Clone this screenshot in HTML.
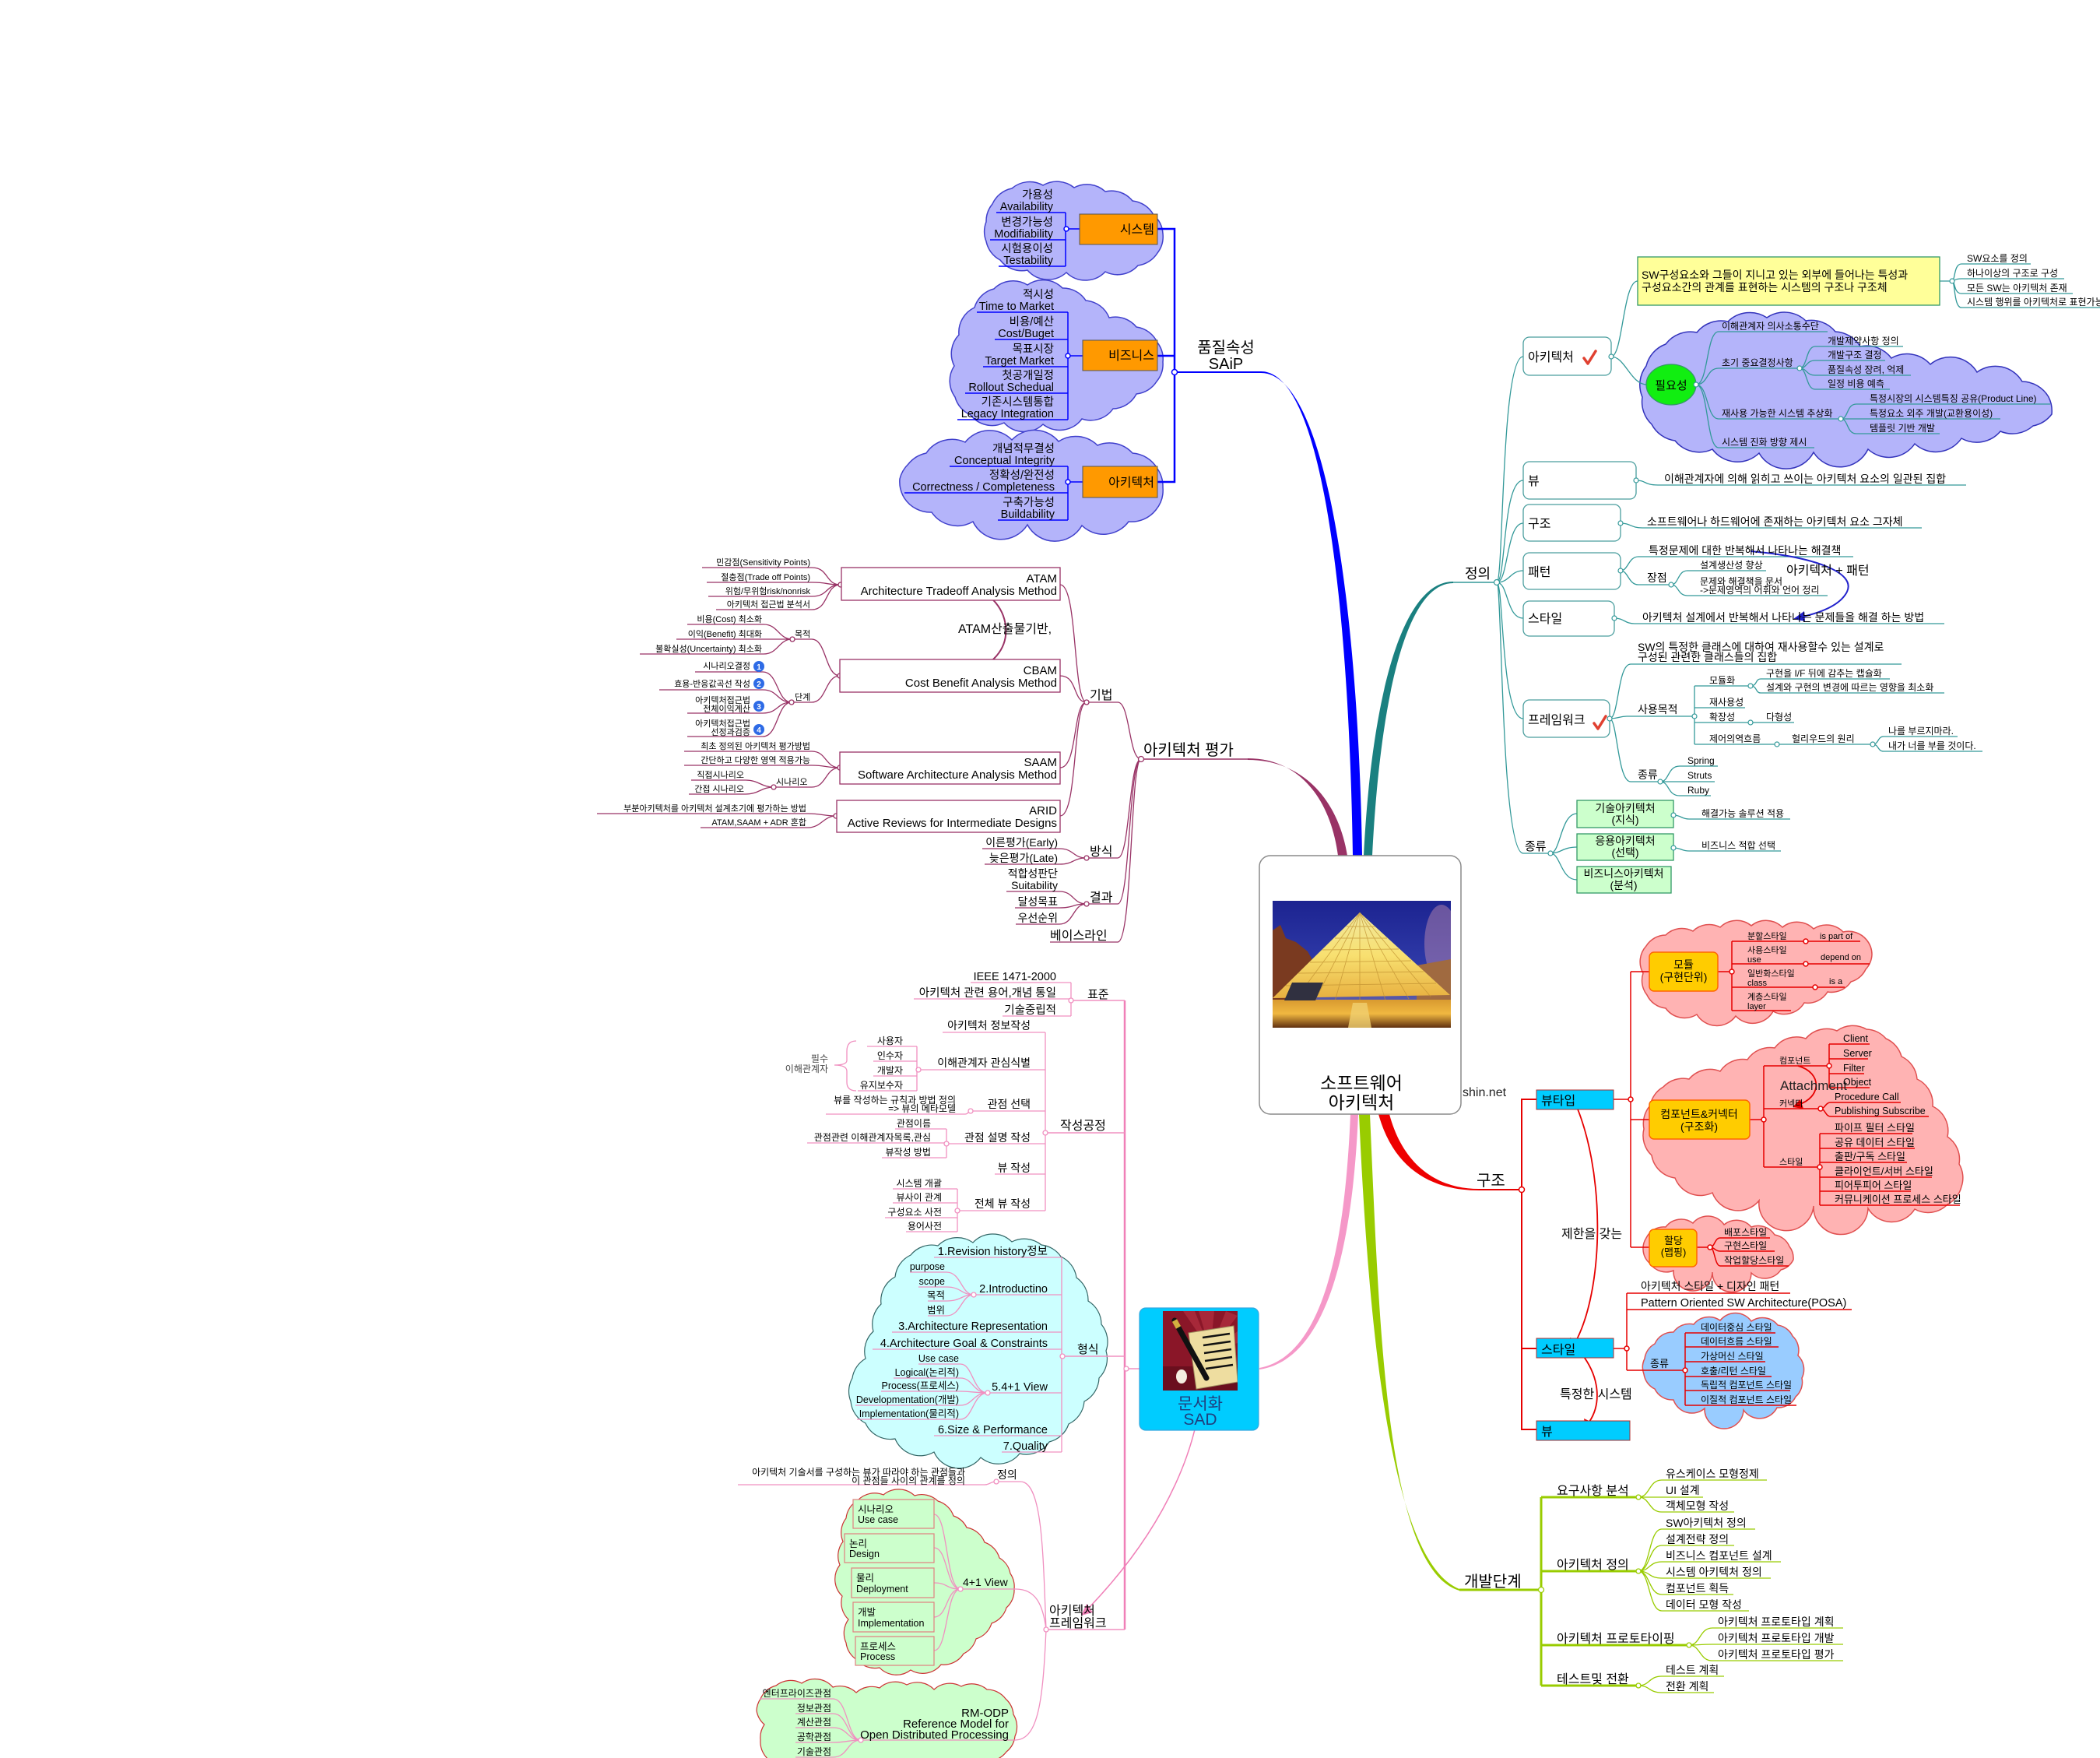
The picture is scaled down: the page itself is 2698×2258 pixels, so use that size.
<!DOCTYPE html>
<html><head><meta charset="utf-8">
<style>
body{margin:0;background:#fff}
svg{display:block;font-family:"Liberation Sans","Noto Sans CJK KR","WenQuanYi Zen Hei",sans-serif}
text{fill:#000}
.e{text-anchor:end}.m{text-anchor:middle}
.f10{font-size:10px}.f11{font-size:11px}.f12{font-size:12px}.f125{font-size:12.5px}.f13{font-size:13px}.f14{font-size:14px}.f145{font-size:14.5px}.f15{font-size:15px}.f16{font-size:16px}.f17{font-size:17px}.f18{font-size:18px}.f20{font-size:20px}.f21{font-size:21px}.f23{font-size:23px}
</style></head><body>
<svg xmlns="http://www.w3.org/2000/svg" width="2698" height="2258" viewBox="0 0 2698 2258">
<defs>
<linearGradient id="sky" x1="0" y1="0" x2="0" y2="1"><stop offset="0" stop-color="#1c2390"/><stop offset="0.5" stop-color="#2f3aa8"/><stop offset="0.8" stop-color="#5a5aa8"/><stop offset="1" stop-color="#8a6a90"/></linearGradient>
<linearGradient id="pyr" x1="0" y1="0" x2="0" y2="1"><stop offset="0" stop-color="#f0e8a0"/><stop offset="0.5" stop-color="#f8e070"/><stop offset="1" stop-color="#e8b040"/></linearGradient>
<linearGradient id="water" x1="0" y1="0" x2="0" y2="1"><stop offset="0" stop-color="#d89a30"/><stop offset="0.5" stop-color="#f0b840"/><stop offset="1" stop-color="#603010"/></linearGradient>
<clipPath id="imgc"><rect x="1635" y="1157" width="229" height="163"/></clipPath>
<clipPath id="docc"><rect x="1494" y="1684" width="96" height="102"/></clipPath>
</defs>

<!-- ============ CLOUDS ============ -->
<g stroke-width="1.5">
<path fill="#b4b4fa" stroke="#4040cc" d="M1275,262 A35 35 0 0 1 1300,242 A35 35 0 0 1 1340,238 A35 35 0 0 1 1380,241 A35 35 0 0 1 1420,246 A35 35 0 0 1 1455,258 A35 35 0 0 1 1482,276 A35 35 0 0 1 1494,300 A35 35 0 0 1 1487,325 A35 35 0 0 1 1462,341 A35 35 0 0 1 1420,349 A35 35 0 0 1 1370,350 A35 35 0 0 1 1320,347 A35 35 0 0 1 1285,334 A35 35 0 0 1 1267,310 A35 35 0 0 1 1267,285 A35 35 0 0 1 1275,262 Z"/>
<path fill="#b4b4fa" stroke="#4040cc" d="M1252,395 A35 35 0 0 1 1277,371 A35 35 0 0 1 1320,366 A35 35 0 0 1 1365,370 A35 35 0 0 1 1395,386 A35 35 0 0 1 1425,408 A35 35 0 0 1 1460,420 A35 35 0 0 1 1487,440 A35 35 0 0 1 1494,465 A35 35 0 0 1 1486,490 A35 35 0 0 1 1460,506 A35 35 0 0 1 1430,525 A35 35 0 0 1 1390,538 A35 35 0 0 1 1340,545 A35 35 0 0 1 1290,543 A35 35 0 0 1 1247,533 A35 35 0 0 1 1227,510 A35 35 0 0 1 1226,470 A35 35 0 0 1 1232,430 A35 35 0 0 1 1252,395 Z"/>
<path fill="#b4b4fa" stroke="#4040cc" d="M1190,582 A40 40 0 0 1 1240,568 A40 40 0 0 1 1300,565 A40 40 0 0 1 1360,567 A40 40 0 0 1 1410,572 A40 40 0 0 1 1455,582 A40 40 0 0 1 1487,602 A40 40 0 0 1 1494,626 A40 40 0 0 1 1485,655 A40 40 0 0 1 1450,670 A40 40 0 0 1 1390,675 A40 40 0 0 1 1320,674 A40 40 0 0 1 1250,670 A40 40 0 0 1 1197,658 A40 40 0 0 1 1162,640 A40 40 0 0 1 1156,615 A40 40 0 0 1 1167,596 A40 40 0 0 1 1190,582 Z"/>
<path fill="#b4b4fa" stroke="#3333bb" d="M2115,470 A40 40 0 0 1 2140,442 A40 40 0 0 1 2180,427 A40 40 0 0 1 2220,413 A40 40 0 0 1 2270,408 A40 40 0 0 1 2320,412 A40 40 0 0 1 2358,426 A40 40 0 0 1 2390,445 A40 40 0 0 1 2430,460 A40 40 0 0 1 2480,468 A40 40 0 0 1 2540,478 A40 40 0 0 1 2598,490 A40 40 0 0 1 2632,510 A40 40 0 0 1 2636,532 A40 40 0 0 1 2612,547 A40 40 0 0 1 2570,554 A40 40 0 0 1 2520,563 A40 40 0 0 1 2460,570 A40 40 0 0 1 2400,577 A40 40 0 0 1 2330,581 A40 40 0 0 1 2260,582 A40 40 0 0 1 2200,577 A40 40 0 0 1 2152,566 A40 40 0 0 1 2122,545 A40 40 0 0 1 2110,510 A40 40 0 0 1 2115,470 Z"/>
<path fill="#ffb3b3" stroke="#e05050" d="M2115,1215 A30 30 0 0 1 2140,1201 A30 30 0 0 1 2175,1196 A30 30 0 0 1 2210,1191 A30 30 0 0 1 2250,1189 A30 30 0 0 1 2290,1191 A30 30 0 0 1 2330,1193 A30 30 0 0 1 2368,1197 A30 30 0 0 1 2398,1207 A30 30 0 0 1 2405,1226 A30 30 0 0 1 2397,1245 A30 30 0 0 1 2378,1261 A30 30 0 0 1 2348,1274 A30 30 0 0 1 2318,1288 A30 30 0 0 1 2278,1299 A30 30 0 0 1 2230,1305 A30 30 0 0 1 2180,1303 A30 30 0 0 1 2140,1295 A30 30 0 0 1 2116,1278 A30 30 0 0 1 2111,1250 A30 30 0 0 1 2115,1215 Z"/>
<path fill="#ffb3b3" stroke="#e05050" d="M2120,1420 A35 35 0 0 1 2137,1396 A35 35 0 0 1 2170,1386 A35 35 0 0 1 2210,1376 A35 35 0 0 1 2245,1361 A35 35 0 0 1 2280,1346 A35 35 0 0 1 2320,1334 A35 35 0 0 1 2360,1324 A35 35 0 0 1 2398,1322 A35 35 0 0 1 2423,1334 A35 35 0 0 1 2443,1357 A35 35 0 0 1 2463,1386 A35 35 0 0 1 2483,1421 A35 35 0 0 1 2502,1460 A35 35 0 0 1 2517,1495 A35 35 0 0 1 2520,1524 A35 35 0 0 1 2502,1547 A35 35 0 0 1 2460,1553 A35 35 0 0 1 2400,1552 A35 35 0 0 1 2330,1549 A35 35 0 0 1 2260,1542 A35 35 0 0 1 2200,1532 A35 35 0 0 1 2152,1513 A35 35 0 0 1 2122,1484 A35 35 0 0 1 2112,1450 A35 35 0 0 1 2120,1420 Z"/>
<path fill="#ffb3b3" stroke="#e05050" d="M2115,1590 A25 25 0 0 1 2140,1576 A25 25 0 0 1 2175,1571 A25 25 0 0 1 2215,1573 A25 25 0 0 1 2250,1576 A25 25 0 0 1 2280,1586 A25 25 0 0 1 2299,1601 A25 25 0 0 1 2304,1618 A25 25 0 0 1 2288,1631 A25 25 0 0 1 2250,1635 A25 25 0 0 1 2200,1634 A25 25 0 0 1 2150,1632 A25 25 0 0 1 2120,1623 A25 25 0 0 1 2111,1605 A25 25 0 0 1 2115,1590 Z"/>
<path fill="#99ccff" stroke="#e05050" d="M2113,1745 A25 25 0 0 1 2126,1726 A25 25 0 0 1 2150,1711 A25 25 0 0 1 2176,1701 A25 25 0 0 1 2210,1696 A25 25 0 0 1 2250,1697 A25 25 0 0 1 2284,1702 A25 25 0 0 1 2303,1716 A25 25 0 0 1 2310,1741 A25 25 0 0 1 2315,1770 A25 25 0 0 1 2307,1794 A25 25 0 0 1 2283,1808 A25 25 0 0 1 2240,1811 A25 25 0 0 1 2190,1809 A25 25 0 0 1 2150,1798 A25 25 0 0 1 2126,1784 A25 25 0 0 1 2112,1765 A25 25 0 0 1 2113,1745 Z"/>
<path fill="#ccffff" stroke="#336666" stroke-width="1.2" d="M1150,1640 A35 35 0 0 1 1170,1612 A35 35 0 0 1 1205,1600 A35 35 0 0 1 1250,1596 A35 35 0 0 1 1300,1595 A35 35 0 0 1 1338,1599 A35 35 0 0 1 1363,1614 A35 35 0 0 1 1383,1641 A35 35 0 0 1 1398,1671 A35 35 0 0 1 1415,1701 A35 35 0 0 1 1421,1735 A35 35 0 0 1 1412,1770 A35 35 0 0 1 1393,1800 A35 35 0 0 1 1373,1829 A35 35 0 0 1 1348,1852 A35 35 0 0 1 1310,1867 A35 35 0 0 1 1260,1872 A35 35 0 0 1 1200,1865 A35 35 0 0 1 1150,1848 A35 35 0 0 1 1112,1828 A35 35 0 0 1 1093,1800 A35 35 0 0 1 1095,1770 A35 35 0 0 1 1112,1745 A35 35 0 0 1 1122,1710 A35 35 0 0 1 1132,1675 A35 35 0 0 1 1150,1640 Z"/>
<path fill="#ccffcc" stroke="#cc3333" stroke-width="1.2" d="M1087,1950 A30 30 0 0 1 1102,1927 A30 30 0 0 1 1135,1920 A30 30 0 0 1 1175,1921 A30 30 0 0 1 1205,1928 A30 30 0 0 1 1225,1947 A30 30 0 0 1 1242,1962 A30 30 0 0 1 1265,1981 A30 30 0 0 1 1284,2001 A30 30 0 0 1 1298,2021 A30 30 0 0 1 1303,2041 A30 30 0 0 1 1293,2065 A30 30 0 0 1 1274,2085 A30 30 0 0 1 1254,2105 A30 30 0 0 1 1238,2124 A30 30 0 0 1 1209,2138 A30 30 0 0 1 1170,2145 A30 30 0 0 1 1130,2142 A30 30 0 0 1 1101,2132 A30 30 0 0 1 1087,2110 A30 30 0 0 1 1090,2080 A30 30 0 0 1 1082,2050 A30 30 0 0 1 1079,2010 A30 30 0 0 1 1083,1980 A30 30 0 0 1 1087,1950 Z"/>
<path fill="#ccffcc" stroke="#cc3333" stroke-width="1.2" d="M977,2182 A30 30 0 0 1 997,2165 A30 30 0 0 1 1030,2162 A30 30 0 0 1 1070,2167 A30 30 0 0 1 1100,2174 A30 30 0 0 1 1130,2168 A30 30 0 0 1 1165,2164 A30 30 0 0 1 1200,2170 A30 30 0 0 1 1235,2166 A30 30 0 0 1 1268,2170 A30 30 0 0 1 1292,2182 A30 30 0 0 1 1302,2202 A30 30 0 0 1 1304,2230 A30 30 0 0 1 1293,2250 A30 30 0 0 1 1270,2262 L990,2262 A30 30 0 0 1 977,2235 A30 30 0 0 1 982,2215 A30 30 0 0 1 972,2197 A30 30 0 0 1 977,2182 Z"/>
</g>

<!-- ============ MAIN BRANCHES ============ -->
<path fill="#0000ff" d="M1620,477 C1700,477 1733,780 1738,1099 L1750,1099 C1745,780 1704,479 1620,479 Z"/>
<path fill="#1a8080" d="M1867,747 C1800,747 1762,900 1752,1099 L1763,1099 C1773,900 1806,749 1867,749 Z"/>
<path fill="#993366" d="M1603,974 C1672,974 1710,1030 1719,1099 L1731,1099 C1720,1030 1676,976 1603,976 Z"/>
<path fill="#ee0000" d="M1771,1431 C1790,1500 1838,1529 1900,1529 L1900,1527 C1845,1527 1802,1495 1785,1431 Z"/>
<path fill="#f598c8" d="M1735,1431 C1728,1600 1700,1742 1618,1757 L1618,1759 C1706,1746 1738,1600 1745,1431 Z"/>
<path fill="#99cc00" d="M1746,1431 C1758,1700 1785,2005 1875,2041 L1875,2043 C1780,2015 1772,1700 1760,1431 Z"/>

<!-- ============ BLUE (quality) ============ -->
<g fill="none" stroke="#0000ff" stroke-width="1.5">
<path d="M1280,273H1369M1272,308H1369M1283,342H1369M1369,273V342M1369,294H1387"/>
<path d="M1255,401H1372M1278,436H1372M1263,471H1372M1240,505H1372M1230,539H1372M1372,401V539M1372,457H1391"/>
<path d="M1220,599H1372M1162,633H1372M1282,668H1372M1372,599V668M1372,619H1391"/>
<path stroke-width="2.5" d="M1487,294H1509V619H1487M1487,457H1509"/>
<path stroke-width="2" d="M1509,478H1620"/>
<circle fill="#fff" cx="1370" cy="294" r="3"/><circle fill="#fff" cx="1372" cy="457" r="3"/><circle fill="#fff" cx="1372" cy="619" r="3"/><circle fill="#fff" cx="1509" cy="478" r="3.5"/>
</g>
<g fill="#ff9900" stroke="#555" stroke-width="1">
<rect x="1387" y="275" width="100" height="39"/>
<rect x="1391" y="437" width="96" height="39"/>
<rect x="1391" y="599" width="96" height="40"/>
</g>
<g class="f16">
<text class="e" x="1483" y="300">시스템</text>
<text class="e" x="1483" y="462">비즈니스</text>
<text class="e" x="1483" y="625">아키텍처</text>
</g>
<g class="f145">
<text class="e" x="1353" y="255">가용성</text><text class="e" x="1353" y="270">Availability</text>
<text class="e" x="1353" y="290">변경가능성</text><text class="e" x="1353" y="305">Modifiability</text>
<text class="e" x="1353" y="324">시험용이성</text><text class="e" x="1353" y="339">Testability</text>
<text class="e" x="1354" y="383">적시성</text><text class="e" x="1354" y="398">Time to Market</text>
<text class="e" x="1354" y="418">비용/예산</text><text class="e" x="1354" y="433">Cost/Buget</text>
<text class="e" x="1354" y="453">목표시장</text><text class="e" x="1354" y="468">Target Market</text>
<text class="e" x="1354" y="487">첫공개일정</text><text class="e" x="1354" y="502">Rollout Schedual</text>
<text class="e" x="1354" y="521">기존시스템통합</text><text class="e" x="1354" y="536">Legacy Integration</text>
<text class="e" x="1355" y="581">개념적무결성</text><text class="e" x="1355" y="596">Conceptual Integrity</text>
<text class="e" x="1355" y="615">정확성/완전성</text><text class="e" x="1355" y="630">Correctness / Completeness</text>
<text class="e" x="1355" y="650">구축가능성</text><text class="e" x="1355" y="665">Buildability</text>
</g>
<text class="f20 m" x="1575" y="453">품질속성</text>
<text class="f20 m" x="1575" y="474">SAiP</text>

<!-- ============ MAROON (evaluation) ============ -->
<g fill="none" stroke="#993366" stroke-width="1.3">
<path stroke-width="1.6" d="M1466,975H1603"/>
<path d="M1362,751 C1385,751 1378,902 1396,902 M1362,868 C1385,868 1378,902 1396,902 M1362,986 C1385,986 1378,902 1396,902 M1362,1048 C1385,1048 1378,902 1396,902"/>
<path d="M1396,902H1436 C1452,902 1450,975 1466,975 M1396,1102H1436 C1452,1102 1450,975 1466,975 M1396,1161H1436 C1452,1161 1450,975 1466,975 M1349,1210H1436 C1455,1210 1452,975 1466,975"/>
<path d="M1262,1090H1361 C1380,1090 1378,1102 1396,1102 M1265,1110H1361 C1380,1110 1378,1102 1396,1102"/>
<path d="M1293,1145H1361 C1380,1145 1378,1161 1396,1161 M1304,1166H1361 C1380,1166 1378,1161 1396,1161 M1305,1187H1361 C1380,1187 1378,1161 1396,1161"/>
<path d="M902,729H1043 C1065,729 1060,751 1080,751 M908,748H1043 C1065,748 1060,751 1080,751 M910,766H1043 C1065,766 1060,751 1080,751 M920,783H1043 C1065,783 1060,751 1080,751"/>
<path d="M1018,821H1043 C1062,821 1060,868 1079,868 M1017,902H1043 C1062,902 1060,868 1079,868"/>
<path d="M883,802H981 C1000,802 1000,821 1018,821 M869,821H1018 M822,840H981 C1000,840 1000,821 1018,821"/>
<path d="M893,863H980 C1000,863 998,902 1017,902 M847,886H980 C1000,886 998,902 1017,902 M883,916H980 C1000,916 998,902 1017,902 M883,946H980 C1000,946 998,902 1017,902"/>
<path d="M879,965H1043 C1062,965 1060,986 1079,986 M879,983H1043 C1062,983 1060,986 1079,986 M994,1011H1043 C1062,1011 1060,986 1079,986"/>
<path d="M888,1002H958 C975,1002 978,1011 994,1011 M885,1020H958 C975,1020 978,1011 994,1011"/>
<path d="M767,1045H1038 C1055,1045 1058,1048 1074,1048 M900,1063H1038 C1055,1063 1058,1048 1074,1048"/>
<path stroke-width="2" d="M1237,752 C1300,758 1322,850 1234,866"/>
<g fill="#fff">
<circle cx="1080" cy="751" r="3"/><circle cx="1079" cy="868" r="3"/><circle cx="1018" cy="821" r="3"/><circle cx="1017" cy="902" r="3"/><circle cx="1079" cy="986" r="3"/><circle cx="994" cy="1011" r="3"/><circle cx="1074" cy="1048" r="3"/><circle cx="1396" cy="902" r="3"/><circle cx="1396" cy="1102" r="3"/><circle cx="1396" cy="1161" r="3"/><circle cx="1466" cy="975" r="3.5"/>
</g>
</g>
<polygon fill="#993366" points="1222,868 1237,859 1236,873"/>
<g fill="#fff" stroke="#993366" stroke-width="1.3">
<rect x="1081" y="729" width="281" height="42"/>
<rect x="1079" y="847" width="283" height="42"/>
<rect x="1079" y="966" width="283" height="41"/>
<rect x="1075" y="1028" width="287" height="41"/>
</g>
<g class="f15">
<text class="e" x="1358" y="748">ATAM</text><text class="e" x="1358" y="764">Architecture Tradeoff Analysis Method</text>
<text class="e" x="1358" y="866">CBAM</text><text class="e" x="1358" y="882">Cost Benefit Analysis Method</text>
<text class="e" x="1358" y="984">SAAM</text><text class="e" x="1358" y="1000">Software Architecture Analysis Method</text>
<text class="e" x="1358" y="1046">ARID</text><text class="e" x="1358" y="1062">Active Reviews for Intermediate Designs</text>
</g>
<g class="f11">
<text class="e" x="1041" y="726">민감점(Sensitivity Points)</text>
<text class="e" x="1041" y="745">절충점(Trade off Points)</text>
<text class="e" x="1041" y="763">위험/무위험risk/nonrisk</text>
<text class="e" x="1041" y="780">아키텍처 접근법 분석서</text>
<text x="1021" y="818">목적</text><text x="1021" y="899">단계</text>
<text class="e" x="979" y="799">비용(Cost) 최소화</text>
<text class="e" x="979" y="818">이익(Benefit) 최대화</text>
<text class="e" x="979" y="837">불확실성(Uncertainty) 최소화</text>
<text class="e" x="964" y="859">시나리오결정</text>
<text class="e" x="964" y="882">효용-반응값곡선 작성</text>
<text class="e" x="964" y="903">아키텍처접근법</text><text class="e" x="964" y="914">전체이익계산</text>
<text class="e" x="964" y="933">아키텍처접근법</text><text class="e" x="964" y="944">선정과검증</text>
<text class="e" x="1041" y="962">최초 정의된 아키텍처 평가방법</text>
<text class="e" x="1041" y="980">간단하고 다양한 영역 적용가능</text>
<text x="997" y="1008">시나리오</text>
<text class="e" x="956" y="999">직접시나리오</text>
<text class="e" x="956" y="1017">간접 시나리오</text>
<text class="e" x="1036" y="1042">부분아키텍처를 아키텍처 설계초기에 평가하는 방법</text>
<text class="e" x="1036" y="1060">ATAM,SAAM + ADR 혼합</text>
</g>
<g fill="#2e6be6"><circle cx="975" cy="856" r="7"/><circle cx="975" cy="878" r="7"/><circle cx="975" cy="907" r="7"/><circle cx="975" cy="937" r="7"/></g>
<g class="f10 m" font-weight="bold"><text x="975" y="860" style="fill:#fff">1</text><text x="975" y="882" style="fill:#fff">2</text><text x="975" y="911" style="fill:#fff">3</text><text x="975" y="941" style="fill:#fff">4</text></g>
<g class="f14">
<text class="e" x="1359" y="1087">이른평가(Early)</text>
<text class="e" x="1359" y="1107">늦은평가(Late)</text>
<text class="e" x="1359" y="1127">적합성판단</text><text class="e" x="1359" y="1142">Suitability</text>
<text class="e" x="1359" y="1163">달성목표</text>
<text class="e" x="1359" y="1184">우선순위</text>
</g>
<g class="f16">
<text x="1400" y="898">기법</text><text x="1400" y="1099">방식</text><text x="1400" y="1158">결과</text><text x="1349" y="1207">베이스라인</text>
<text x="1231" y="813">ATAM산출물기반,</text>
</g>
<text class="f20" x="1469" y="970">아키텍처 평가</text>

<!-- ============ TEAL (definition) ============ -->
<g fill="none" stroke="#339999" stroke-width="1.3">
<path stroke-width="1.6" d="M1867,748H1923"/>
<path d="M1923,748 C1932,748 1928,458 1957,458 M1923,748 C1935,748 1930,617 1957,617 M1923,748 C1938,748 1935,672 1957,672 M1923,748 C1940,748 1940,733 1957,733 M1923,748 C1938,748 1935,794 1957,794 M1923,748 C1932,748 1928,923 1957,923 M1923,748 C1930,748 1928,1096 1957,1096 H1992"/>
<path d="M2070,458 C2085,458 2085,361 2104,361 M2070,458 C2088,458 2095,494 2116,494"/>
<path d="M2492,361H2508 M2508,361 C2512,361 2510,339 2520,339 H2609 M2508,361 C2512,361 2510,358 2520,358 H2652 M2508,361 C2512,361 2510,377 2520,377 H2663 M2508,361 C2512,361 2510,395 2520,395 H2698"/>
<path d="M2179,494 C2195,494 2192,426 2208,426 H2348 M2179,494 C2195,494 2192,473 2208,473 H2312 M2179,494 C2195,494 2192,538 2208,538 H2365 M2179,494 C2195,494 2192,575 2208,575 H2331"/>
<path d="M2312,473 C2322,473 2320,445 2332,445 H2445 M2312,473 C2322,473 2320,463 2332,463 H2422 M2312,473 C2322,473 2320,482 2332,482 H2455 M2312,473 C2322,473 2320,500 2332,500 H2428"/>
<path d="M2365,538 C2375,538 2372,519 2385,519 H2634 M2365,538 H2570 M2365,538 C2375,538 2372,557 2385,557 H2492"/>
<path d="M2102,617 C2115,617 2112,623 2130,623 H2526 M2082,672 C2095,672 2095,678 2110,678 H2469"/>
<path d="M2082,733 C2092,733 2092,715 2105,715 H2381 M2082,733 C2092,733 2092,751 2105,751 H2147"/>
<path d="M2147,751 C2157,751 2155,733 2168,733 H2269 M2147,751 C2157,751 2155,765 2168,765 H2348"/>
<path d="M2074,794 C2087,794 2087,801 2100,801 H2498"/>
<path d="M2068,923 C2080,923 2078,853 2095,853 H2443 M2068,923 C2080,923 2080,920 2090,920 H2177 M2068,923 C2078,923 2078,1004 2095,1004 H2133"/>
<path d="M2177,881V956 M2177,881H2249 M2177,909H2242 M2177,928H2305 M2177,956H2406"/>
<path d="M2249,881 C2258,881 2255,872 2262,872 H2428 M2249,881 C2258,881 2255,890 2262,890 H2498"/>
<path d="M2406,956 C2414,956 2412,946 2420,946 H2515 M2406,956 C2414,956 2412,965 2420,965 H2547"/>
<path d="M2133,1004 C2145,1004 2142,984 2158,984 H2207 M2133,1004 H2203 M2133,1004 C2145,1004 2142,1022 2158,1022 H2198"/>
<path d="M1992,1096 C2005,1096 2005,1045 2026,1045 M1992,1096 C2005,1096 2008,1088 2026,1088 M1992,1096 C2005,1096 2005,1130 2026,1130"/>
<path d="M2150,1047 C2160,1047 2160,1052 2170,1052 H2300 M2150,1089 C2160,1089 2160,1093 2170,1093 H2288"/>
</g>
<g fill="#fff" stroke="#4a9e9e" stroke-width="1.3">
<rect x="1957" y="433" width="113" height="49" rx="8"/>
<rect x="1957" y="593" width="145" height="48" rx="8"/>
<rect x="1957" y="648" width="125" height="47" rx="8"/>
<rect x="1957" y="710" width="125" height="47" rx="8"/>
<rect x="1957" y="772" width="117" height="45" rx="8"/>
<rect x="1957" y="899" width="111" height="48" rx="8"/>
</g>
<rect x="2104" y="330" width="388" height="62" fill="#ffff99" stroke="#339966" stroke-width="1.3"/>
<ellipse cx="2147" cy="494" rx="32" ry="26" fill="#11ee11" stroke="#339966" stroke-width="1.3"/>
<g fill="#ccffcc" stroke="#339966" stroke-width="1.3">
<rect x="2026" y="1028" width="124" height="35"/>
<rect x="2026" y="1071" width="124" height="34"/>
<rect x="2026" y="1113" width="121" height="34"/>
</g>
<g fill="#fff" stroke="#339999" stroke-width="1.2">
<circle cx="1923" cy="748" r="3.5"/><circle cx="2070" cy="458" r="3"/><circle cx="2508" cy="361" r="3"/><circle cx="2179" cy="494" r="3"/><circle cx="2312" cy="473" r="3"/><circle cx="2365" cy="538" r="3"/><circle cx="2102" cy="617" r="3"/><circle cx="2082" cy="672" r="3"/><circle cx="2082" cy="733" r="3"/><circle cx="2147" cy="751" r="3"/><circle cx="2074" cy="794" r="3"/><circle cx="2068" cy="923" r="3"/><circle cx="2177" cy="920" r="3"/><circle cx="2249" cy="881" r="3"/><circle cx="2249" cy="928" r="3"/><circle cx="2283" cy="956" r="3"/><circle cx="2406" cy="956" r="3"/><circle cx="2133" cy="1004" r="3"/><circle cx="1992" cy="1096" r="3"/><circle cx="2150" cy="1047" r="3"/><circle cx="2150" cy="1089" r="3"/>
</g>
<g fill="none" stroke="#e04030" stroke-width="3.5" stroke-linecap="round" stroke-linejoin="round">
<path d="M2035,460 L2040,467 L2050,451"/>
<path d="M2048,929 L2053,936 L2063,920"/>
</g>
<path fill="none" stroke="#2222cc" stroke-width="2" d="M2249,708 C2330,715 2385,735 2373,760 C2364,778 2338,787 2316,792"/>
<polygon fill="#2222cc" points="2304,795 2318,785 2319,798"/>
<g class="f16">
<text x="1963" y="464">아키텍처</text>
<text x="1963" y="623">뷰</text>
<text x="1963" y="678">구조</text>
<text x="1963" y="740">패턴</text>
<text x="1963" y="800">스타일</text>
<text x="1963" y="930">프레임워크</text>
<text x="2295" y="738">아키텍처 + 패턴</text>
</g>
<text class="f18" x="1882" y="743">정의</text>
<text class="f15" x="1959" y="1092">종류</text>
<g class="f14">
<text x="2109" y="358">SW구성요소와 그들이 지니고 있는 외부에 들어나는 특성과</text>
<text x="2109" y="374">구성요소간의 관계를 표현하는 시스템의 구조나 구조체</text>
<text class="m" x="2147" y="500" style="font-size:15px">필요성</text>
<text x="2138" y="620">이해관계자에 의해 읽히고 쓰이는 아키텍처 요소의 일관된 집합</text>
<text x="2116" y="675">소프트웨어나 하드웨어에 존재하는 아키텍처 요소 그자체</text>
<text x="2118" y="712">특정문제에 대한 반복해서 나타나는 해결책</text>
<text x="2116" y="747">장점</text>
<text x="2110" y="798">아키텍처 설계에서 반복해서 나타나는 문제들을 해결 하는 방법</text>
<text x="2104" y="836">SW의 특정한 클래스에 대하여 재사용할수 있는 설계로</text>
<text x="2104" y="849">구성된 관련한 클래스들의 집합</text>
<text x="2104" y="916">사용목적</text>
<text x="2104" y="1000">종류</text>
<text class="m" x="2088" y="1043">기술아키텍처</text><text class="m" x="2088" y="1058">(지식)</text>
<text class="m" x="2088" y="1085">응용아키텍처</text><text class="m" x="2088" y="1100">(선택)</text>
<text class="m" x="2086" y="1127">비즈니스아키텍처</text><text class="m" x="2086" y="1142">(분석)</text>
</g>
<g class="f12">
<text x="2527" y="336">SW요소를 정의</text>
<text x="2527" y="355">하나이상의 구조로 구성</text>
<text x="2527" y="374">모든 SW는 아키텍처 존재</text>
<text x="2527" y="392">시스템 행위를 아키텍처로 표현가능</text>
<text x="2212" y="423">이해관계자 의사소통수단</text>
<text x="2212" y="470">초기 중요결정사항</text>
<text x="2212" y="535">재사용 가능한 시스템 추상화</text>
<text x="2212" y="572">시스템 진화 방향 제시</text>
<text x="2348" y="442">개발제약사항 정의</text>
<text x="2348" y="460">개발구조 결정</text>
<text x="2348" y="479">품질속성 장려, 억제</text>
<text x="2348" y="497">일정 비용 예측</text>
<text x="2402" y="516">특정시장의 시스템특징 공유(Product Line)</text>
<text x="2402" y="535">특정요소 외주 개발(교환용이성)</text>
<text x="2402" y="554">템플릿 기반 개발</text>
<text x="2184" y="730">설계생산성 향상</text>
<text x="2184" y="751">문제와 해결책을 문서</text>
<text x="2184" y="762">-&gt;문제영역의 어휘와 언어 정리</text>
<text x="2196" y="878">모듈화</text>
<text x="2269" y="869">구현을 I/F 뒤에 감추는 캡슐화</text>
<text x="2269" y="887">설계와 구현의 변경에 따르는 영향을 최소화</text>
<text x="2196" y="906">재사용성</text>
<text x="2196" y="925">확장성</text>
<text x="2269" y="925">다형성</text>
<text x="2196" y="953">제어의역흐름</text>
<text x="2302" y="953">헐리우드의 원리</text>
<text x="2426" y="943">나를 부르지마라.</text>
<text x="2426" y="962">내가 너를 부를 것이다.</text>
<text x="2168" y="981">Spring</text>
<text x="2168" y="1000">Struts</text>
<text x="2168" y="1019">Ruby</text>
<text x="2186" y="1049">해결가능 솔루션 적용</text>
<text x="2186" y="1090">비즈니스 적합 선택</text>
</g>

<!-- ============ CENTER NODE ============ -->
<rect x="1618" y="1099" width="259" height="332" rx="14" fill="#fff" stroke="#8a8a8a" stroke-width="1.5"/>
<g clip-path="url(#imgc)">
<rect x="1635" y="1157" width="229" height="163" fill="url(#sky)"/>
<ellipse cx="1852" cy="1212" rx="22" ry="50" fill="#c890b0" opacity="0.45"/>
<polygon fill="#7a3a20" points="1635,1195 1645,1188 1652,1205 1665,1210 1680,1222 1690,1240 1690,1285 1635,1285"/>
<polygon fill="#a06a40" points="1820,1240 1864,1232 1864,1285 1820,1285"/>
<polygon fill="url(#pyr)" points="1747,1172 1635,1282 1863,1278"/>
<g stroke="#c09030" stroke-width="0.9" opacity="0.7">
<path d="M1747,1172 L1747,1288 M1747,1172 L1665,1283 M1747,1172 L1690,1284 M1747,1172 L1715,1286 M1747,1172 L1780,1285 M1747,1172 L1810,1283 M1747,1172 L1838,1280"/>
<path d="M1730,1190 L1766,1190 M1715,1205 L1782,1205 M1699,1220 L1797,1219 M1683,1236 L1813,1234 M1668,1250 L1829,1248 M1652,1266 L1845,1263"/>
</g>
<rect x="1635" y="1284" width="229" height="36" fill="url(#water)"/>
<polygon fill="#f0d070" opacity="0.8" points="1738,1288 1756,1288 1762,1320 1732,1320"/>
<polygon fill="#303040" points="1660,1262 1700,1262 1690,1285 1650,1285"/>
</g>
<text class="f23 m" x="1749" y="1399">소프트웨어</text>
<text class="f23 m" x="1749" y="1424">아키텍처</text>
<text class="f16" x="1879" y="1408" style="fill:#222">shin.net</text>

<!-- ============ RED (structure) ============ -->
<g fill="none" stroke="#e60000" stroke-width="1.5">
<path stroke-width="2" d="M1900,1528H1955 M1974,1412H1955V1836H1974 M1955,1732H1974"/>
<path d="M2073,1412H2095 M2095,1248V1602 M2095,1248H2119 M2095,1438H2119 M2095,1602H2119"/>
<path d="M2207,1248H2225 M2225,1209V1298 M2225,1209H2390 M2225,1238H2402 M2225,1268H2370 M2225,1298H2301"/>
<path d="M2248,1438H2266 M2266,1369V1499 M2266,1369H2350 M2266,1424H2339 M2266,1499H2338"/>
<path d="M2350,1341V1397 M2350,1341H2402 M2350,1360H2400 M2350,1379H2395 M2350,1397H2402"/>
<path d="M2339,1424 C2345,1424 2345,1416 2352,1416 H2442 M2339,1424 C2345,1424 2345,1434 2352,1434 H2478"/>
<path d="M2338,1456V1548 M2338,1456H2457 M2338,1475H2460 M2338,1493H2450 M2338,1512H2482 M2338,1530H2455 M2338,1548H2518"/>
<path d="M2180,1602H2197 M2197,1602 C2203,1602 2203,1590 2210,1590 H2274 M2197,1602 C2203,1602 2203,1607 2210,1607 H2280 M2197,1602 C2203,1602 2203,1626 2210,1626 H2298"/>
<path d="M2073,1732H2090 M2090,1661V1760 M2090,1661H2300 M2090,1682H2379 M2090,1760H2165"/>
<path d="M2165,1712V1805 M2165,1712H2281 M2165,1730H2285 M2165,1749H2268 M2165,1768H2276 M2165,1786H2300 M2165,1805H2308"/>
<path stroke-width="1.8" d="M2310,1369 C2342,1378 2340,1410 2310,1419"/>
<path stroke-width="1.8" d="M2022,1413 C2062,1500 2062,1650 2025,1722"/>
<path stroke-width="1.8" d="M2029,1735 C2058,1770 2056,1805 2042,1826"/>
<g fill="#fff">
<circle cx="1955" cy="1528" r="3.5"/><circle cx="2095" cy="1412" r="3"/><circle cx="2225" cy="1248" r="3"/><circle cx="2320" cy="1209" r="3"/><circle cx="2320" cy="1238" r="3"/><circle cx="2332" cy="1268" r="3"/><circle cx="2266" cy="1438" r="3"/><circle cx="2350" cy="1369" r="3"/><circle cx="2339" cy="1424" r="3"/><circle cx="2338" cy="1499" r="3"/><circle cx="2197" cy="1602" r="3"/><circle cx="2090" cy="1732" r="3"/><circle cx="2165" cy="1760" r="3"/>
</g>
</g>
<g fill="#e60000">
<polygon points="2303,1422 2313,1412 2317,1424"/>
<polygon points="2021,1733 2017,1718 2031,1722"/>
<polygon points="2038,1837 2035,1822 2048,1828"/>
</g>
<g fill="#00ccff" stroke="#b03030" stroke-width="1">
<rect x="1974" y="1400" width="99" height="25"/>
<rect x="1974" y="1719" width="99" height="25"/>
<rect x="1974" y="1825" width="120" height="25"/>
</g>
<g fill="#ffcc00" stroke="#ff6600" stroke-width="1.5">
<rect x="2119" y="1223" width="88" height="50" rx="6"/>
<rect x="2119" y="1413" width="129" height="50" rx="6"/>
<rect x="2119" y="1579" width="61" height="48" rx="6"/>
</g>
<g class="f16">
<text x="1980" y="1419">뷰타입</text>
<text x="1980" y="1739">스타일</text>
<text x="1980" y="1844">뷰</text>
<text x="2006" y="1590">제한을 갖는</text>
<text x="2004" y="1796">특정한 시스템</text>
</g>
<text class="f20" x="1897" y="1523">구조</text>
<g class="f14">
<text class="m" x="2163" y="1244">모듈</text><text class="m" x="2163" y="1260">(구현단위)</text>
<text class="m" x="2183" y="1436">컴포넌트&amp;커넥터</text><text class="m" x="2183" y="1452">(구조화)</text>
<text class="m" x="2150" y="1598" style="font-size:13px">할당</text><text class="m" x="2150" y="1613" style="font-size:13px">(맵핑)</text>
<text x="2108" y="1657">아키텍처 스타일 + 디자인 패턴</text>
<text x="2108" y="1678" style="font-size:14.5px">Pattern Oriented SW Architecture(POSA)</text>
</g>
<g class="f11">
<text x="2245" y="1206">분할스타일</text><text x="2338" y="1206">is part of</text>
<text x="2245" y="1224">사용스타일</text><text x="2245" y="1236">use</text><text x="2339" y="1233">depend on</text>
<text x="2245" y="1254">일반화스타일</text><text x="2245" y="1266">class</text><text x="2350" y="1264">is a</text>
<text x="2245" y="1284">계층스타일</text><text x="2245" y="1296">layer</text>
<text x="2286" y="1366">컴포넌트</text>
<text x="2286" y="1421">커넥터</text>
<text x="2286" y="1496">스타일</text>
</g>
<text class="f17" x="2287" y="1400" style="fill:#222">Attachment</text>
<g class="f125">
<text x="2368" y="1338">Client</text><text x="2368" y="1357">Server</text><text x="2368" y="1376">Filter</text><text x="2368" y="1394">Object</text>
<text x="2357" y="1413">Procedure Call</text><text x="2357" y="1431">Publishing Subscribe</text>
</g>
<g class="f13">
<text x="2357" y="1453">파이프 필터 스타일</text>
<text x="2357" y="1472">공유 데이터 스타일</text>
<text x="2357" y="1490">출판/구독 스타일</text>
<text x="2357" y="1509">클라이언트/서버 스타일</text>
<text x="2357" y="1527">피어투피어 스타일</text>
<text x="2357" y="1545">커뮤니케이션 프로세스 스타일</text>
<text x="2120" y="1756">종류</text>
</g>
<g class="f12">
<text x="2215" y="1587">배포스타일</text>
<text x="2215" y="1604">구현스타일</text>
<text x="2215" y="1623">작업할당스타일</text>
<text x="2185" y="1709">데이터중심 스타일</text>
<text x="2185" y="1727">데이터흐름 스타일</text>
<text x="2185" y="1746">가상머신 스타일</text>
<text x="2185" y="1765">호출/리턴 스타일</text>
<text x="2185" y="1783">독립적 컴포넌트 스타일</text>
<text x="2185" y="1802">이질적 컴포넌트 스타일</text>
</g>

<!-- ============ GREEN (development) ============ -->
<g fill="none" stroke="#99cc00">
<path stroke-width="3" d="M1875,2042H1980 M1980,1923V2165 M1980,1923H2105 M1980,2018H2105 M1980,2113H2170 M1980,2165H2105"/>
<g stroke-width="1.3">
<path d="M2105,1923 C2120,1923 2118,1901 2135,1901 H2270 M2105,1923 H2188 M2105,1923 C2120,1923 2118,1942 2135,1942 H2228"/>
<path d="M2105,2018 C2120,2018 2118,1964 2135,1964 H2255 M2105,2018 C2120,2018 2118,1985 2135,1985 H2228 M2105,2018 C2120,2018 2118,2006 2135,2006 H2288 M2105,2018 C2120,2018 2118,2027 2135,2027 H2275 M2105,2018 C2120,2018 2118,2048 2135,2048 H2227 M2105,2018 C2120,2018 2118,2069 2135,2069 H2247"/>
<path d="M2170,2113 C2185,2113 2183,2091 2200,2091 H2368 M2170,2113 C2185,2113 2183,2112 2200,2112 H2368 M2170,2113 C2185,2113 2183,2133 2200,2133 H2368"/>
<path d="M2105,2165 C2120,2165 2118,2153 2135,2153 H2215 M2105,2165 C2120,2165 2118,2174 2135,2174 H2202"/>
</g>
<g fill="#fff" stroke-width="1.3"><circle cx="1980" cy="2042" r="3.5"/><circle cx="2105" cy="1923" r="3"/><circle cx="2105" cy="2018" r="3"/><circle cx="2170" cy="2113" r="3"/><circle cx="2105" cy="2165" r="3"/></g>
</g>
<text class="f20" x="1881" y="2038">개발단계</text>
<g class="f16">
<text x="2000" y="1920">요구사항 분석</text>
<text x="2000" y="2015">아키텍처 정의</text>
<text x="2000" y="2110">아키텍처 프로토타이핑</text>
<text x="2000" y="2162">테스트및 전환</text>
</g>
<g class="f14">
<text x="2140" y="1898">유스케이스 모형정제</text>
<text x="2140" y="1919">UI 설계</text>
<text x="2140" y="1939">객체모형 작성</text>
<text x="2140" y="1961">SW아키텍처 정의</text>
<text x="2140" y="1982">설계전략 정의</text>
<text x="2140" y="2003">비즈니스 컴포넌트 설계</text>
<text x="2140" y="2024">시스템 아키텍처 정의</text>
<text x="2140" y="2045">컴포넌트 획득</text>
<text x="2140" y="2066">데이터 모형 작성</text>
<text x="2207" y="2088">아키텍처 프로토타입 계획</text>
<text x="2207" y="2109">아키텍처 프로토타입 개발</text>
<text x="2207" y="2130">아키텍처 프로토타입 평가</text>
<text x="2140" y="2150">테스트 계획</text>
<text x="2140" y="2171">전환 계획</text>
</g>

<!-- ============ PINK (documentation) ============ -->
<g fill="none" stroke="#f090c0" stroke-width="1.3">
<path stroke="#f080b8" stroke-width="2.5" d="M1445,1285V2093"/>
<path stroke-width="1.6" d="M1376,1285H1445 M1343,1455H1445 M1365,1742H1445 M1445,1758H1464 M1344,2093H1445"/>
<path d="M1376,1262V1305 M1247,1262H1376 M1174,1283H1376 M1288,1305H1376"/>
<path d="M1343,1326V1555 M1211,1326H1343 M1180,1374H1343 M1247,1427H1343 M1216,1469H1343 M1278,1508H1343 M1230,1555H1343"/>
<path d="M1178,1344V1401 M1114,1344H1178 M1122,1363H1178 M1122,1382H1178 M1102,1401H1178"/>
<path d="M1100,1337 Q1088,1337 1088,1350 V1362 Q1088,1368 1072,1368 Q1088,1368 1088,1376 V1390 Q1088,1401 1100,1401"/>
<path d="M1061,1431H1240 C1244,1431 1244,1427 1247,1427"/>
<path d="M1216,1450V1487 M1150,1450H1216 M1037,1468H1216 M1133,1487H1216"/>
<path d="M1230,1527V1582 M1147,1527H1230 M1147,1545H1230 M1137,1564H1230 M1164,1582H1230"/>
<path d="M1364,1615V1865 M1200,1615H1364 M1251,1663H1364 M1146,1711H1364 M1121,1733H1364 M1269,1789H1364 M1200,1844H1364 M1287,1865H1364"/>
<path d="M1251,1663 C1235,1663 1235,1634 1216,1634 H1169 M1251,1663 C1235,1663 1235,1653 1216,1653 H1180 M1251,1663 C1235,1663 1235,1671 1216,1671 H1192 M1251,1663 C1235,1663 1235,1690 1216,1690 H1192"/>
<path d="M1269,1789 C1250,1789 1250,1752 1234,1752 H1180 M1269,1789 C1250,1789 1250,1770 1234,1770 H1148 M1269,1789 C1250,1789 1250,1787 1234,1787 H1132 M1269,1789 C1250,1789 1250,1805 1234,1805 H1099 M1269,1789 C1250,1789 1250,1823 1234,1823 H1101"/>
<path d="M1344,2093 C1340,2000 1340,1903 1311,1903 H1280 M1280,1903 C1272,1903 1272,1907 1265,1907 H948"/>
<path d="M1344,2093 C1340,2060 1330,2041 1305,2041 H1234"/>
<path d="M1344,2093 C1340,2180 1335,2235 1304,2235 H1106"/>
<path d="M1234,2041 C1215,2041 1218,1945 1200,1945 M1234,2041 C1215,2041 1218,1988 1200,1988 M1234,2041 C1215,2041 1218,2033 1200,2033 M1234,2041 C1215,2041 1218,2077 1200,2077 M1234,2041 C1215,2041 1218,2120 1200,2120"/>
<path d="M1106,2235 C1088,2235 1090,2182 1070,2182 H976 M1106,2235 C1088,2235 1090,2201 1070,2201 H1022 M1106,2235 C1088,2235 1090,2219 1070,2219 H1022 M1106,2235 C1088,2235 1090,2238 1070,2238 H1022 M1106,2235 C1088,2235 1090,2257 1070,2257 H1022"/>
<path stroke="#f080b8" stroke-width="1.5" d="M1544,1762 C1545,1850 1500,1960 1398,2066"/>
<g fill="#fff">
<circle cx="1376" cy="1285" r="3"/><circle cx="1343" cy="1455" r="3"/><circle cx="1180" cy="1374" r="3"/><circle cx="1247" cy="1427" r="3"/><circle cx="1216" cy="1469" r="3"/><circle cx="1230" cy="1555" r="3"/><circle cx="1365" cy="1742" r="3"/><circle cx="1251" cy="1663" r="3"/><circle cx="1269" cy="1789" r="3"/><circle cx="1447" cy="1758" r="3"/><circle cx="1344" cy="2093" r="3"/><circle cx="1280" cy="1903" r="3"/><circle cx="1234" cy="2041" r="3"/><circle cx="1106" cy="2235" r="3"/>
</g>
</g>
<polygon fill="#f080b8" points="1389,2075 1396,2060 1404,2071"/>
<g fill="#ccffcc" stroke="#e08080" stroke-width="1.2">
<rect x="1096" y="1926" width="104" height="37"/>
<rect x="1085" y="1970" width="115" height="37"/>
<rect x="1094" y="2014" width="106" height="38"/>
<rect x="1096" y="2058" width="104" height="38"/>
<rect x="1099" y="2102" width="101" height="37"/>
</g>
<!-- doc box -->
<rect x="1464" y="1680" width="153" height="157" rx="8" fill="#00ccff" stroke="#30a8e0" stroke-width="1.2"/>
<g clip-path="url(#docc)">
<rect x="1494" y="1684" width="96" height="102" fill="#8a1628"/>
<polygon fill="#b43040" opacity="0.7" points="1555,1735 1520,1684 1535,1684"/>
<polygon fill="#b43040" opacity="0.7" points="1555,1735 1540,1684 1560,1684"/>
<polygon fill="#b43040" opacity="0.7" points="1555,1735 1575,1684 1590,1690"/>
<polygon fill="#b43040" opacity="0.7" points="1555,1735 1590,1710 1590,1725"/>
<rect x="1494" y="1755" width="96" height="31" fill="#6a0f1e"/>
<polygon fill="#eedda0" stroke="#a09060" stroke-width="1" points="1527,1712 1585,1703 1590,1775 1537,1784"/>
<g stroke="#111" stroke-width="2.5"><path d="M1545,1718 L1580,1713 M1546,1728 L1581,1723 M1547,1738 L1582,1733 M1548,1748 L1583,1743 M1549,1758 L1584,1753"/></g>
<path d="M1509,1696 L1550,1770" stroke="#111" stroke-width="7" stroke-linecap="round"/>
<path d="M1509,1696 L1514,1705" stroke="#d4b040" stroke-width="7"/>
<ellipse cx="1518" cy="1768" rx="7" ry="9" fill="#f4eee0"/>
</g>
<text class="f21 m" x="1542" y="1810" style="fill:#1f3f7f">문서화</text>
<text class="f21 m" x="1542" y="1830" style="fill:#1f3f7f">SAD</text>

<g class="f145">
<text class="e" x="1357" y="1259">IEEE 1471-2000</text>
<text class="e" x="1357" y="1280">아키텍처 관련 용어,개념 통일</text>
<text class="e" x="1357" y="1302">기술중립적</text>
<text class="e" x="1346" y="1612">1.Revision history정보</text>
<text class="e" x="1346" y="1660">2.Introductino</text>
<text class="e" x="1346" y="1708">3.Architecture Representation</text>
<text class="e" x="1346" y="1730">4.Architecture Goal &amp; Constraints</text>
<text class="e" x="1346" y="1786">5.4+1 View</text>
<text class="e" x="1346" y="1841">6.Size &amp; Performance</text>
<text class="e" x="1346" y="1862">7.Quality</text>
</g>
<g class="f15">
<text x="1397" y="1282">표준</text>
<text x="1384" y="1738">형식</text>
</g>
<text class="f16" x="1362" y="1451">작성공정</text>
<g class="f14">
<text class="e" x="1324" y="1322">아키텍처 정보작성</text>
<text class="e" x="1324" y="1370">이해관계자 관심식별</text>
<text class="e" x="1324" y="1423">관점 선택</text>
<text class="e" x="1324" y="1466">관점 설명 작성</text>
<text class="e" x="1324" y="1505">뷰 작성</text>
<text class="e" x="1324" y="1551">전체 뷰 작성</text>
<text x="1281" y="1899">정의</text>
<text x="1237" y="2037">4+1 View</text>
<text class="e" x="1296" y="2205" style="font-size:15px">RM-ODP</text>
<text class="e" x="1296" y="2219" style="font-size:15px">Reference Model for</text>
<text class="e" x="1296" y="2233" style="font-size:15px">Open Distributed Processing</text>
</g>
<g class="f16">
<text x="1348" y="2074">아키텍처</text>
<text x="1348" y="2090">프레임워크</text>
</g>
<g class="f12">
<text class="e" x="1160" y="1341">사용자</text>
<text class="e" x="1160" y="1360">인수자</text>
<text class="e" x="1160" y="1379">개발자</text>
<text class="e" x="1160" y="1398">유지보수자</text>
<text class="e" x="1064" y="1364" style="fill:#444">필수</text>
<text class="e" x="1064" y="1377" style="fill:#444">이해관계자</text>
<text class="e" x="1228" y="1417">뷰를 작성하는 규칙과 방법 정의</text>
<text class="e" x="1228" y="1428">=&gt; 뷰의 메타모델</text>
<text class="e" x="1196" y="1447">관점이름</text>
<text class="e" x="1196" y="1465">관점관련 이해관계자목록,관심</text>
<text class="e" x="1196" y="1484">뷰작성 방법</text>
<text class="e" x="1210" y="1524">시스템 개괄</text>
<text class="e" x="1210" y="1542">뷰사이 관계</text>
<text class="e" x="1210" y="1561">구성요소 사전</text>
<text class="e" x="1210" y="1579">용어사전</text>
<text class="e" x="1240" y="1895">아키텍처 기술서를 구성하는 뷰가 따라야 하는 관점들과</text>
<text class="e" x="1240" y="1906">이 관점들 사이의 관계를 정의</text>
<text class="e" x="1068" y="2179">엔터프라이즈관점</text>
<text class="e" x="1068" y="2198">정보관점</text>
<text class="e" x="1068" y="2216">계산관점</text>
<text class="e" x="1068" y="2235">공학관점</text>
<text class="e" x="1068" y="2254">기술관점</text>
</g>
<g class="f125">
<text class="e" x="1214" y="1631">purpose</text>
<text class="e" x="1214" y="1650">scope</text>
<text class="e" x="1214" y="1668">목적</text>
<text class="e" x="1214" y="1687">범위</text>
<text class="e" x="1232" y="1749">Use case</text>
<text class="e" x="1232" y="1767">Logical(논리적)</text>
<text class="e" x="1232" y="1784">Process(프로세스)</text>
<text class="e" x="1232" y="1802">Developmentation(개발)</text>
<text class="e" x="1232" y="1820">Implementation(물리적)</text>
<text x="1102" y="1943">시나리오</text><text x="1102" y="1956">Use case</text>
<text x="1091" y="1987">논리</text><text x="1091" y="2000">Design</text>
<text x="1100" y="2031">물리</text><text x="1100" y="2045">Deployment</text>
<text x="1102" y="2075">개발</text><text x="1102" y="2089">Implementation</text>
<text x="1105" y="2119">프로세스</text><text x="1105" y="2132">Process</text>
</g>
</svg>
</body></html>
